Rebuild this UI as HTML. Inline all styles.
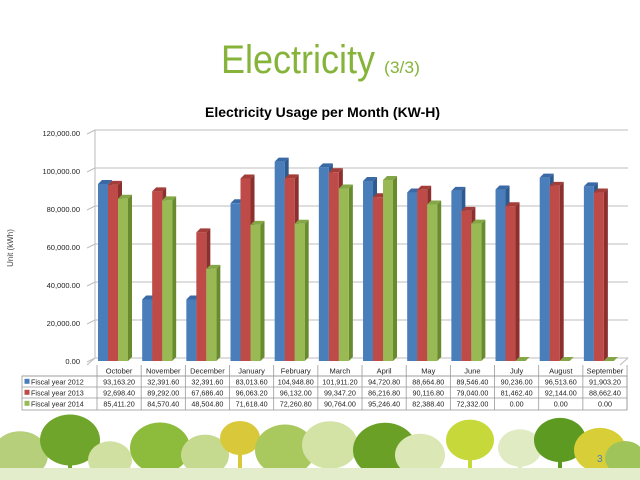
<!DOCTYPE html>
<html><head><meta charset="utf-8"><style>
html,body{margin:0;padding:0;background:#fff;width:640px;height:480px;overflow:hidden}
svg{display:block}
text{font-family:"Liberation Sans",sans-serif}
</style></head><body>
<svg id="s" width="640" height="480" viewBox="0 0 640 480" xmlns="http://www.w3.org/2000/svg">
<g id="trees"></g>
<text x="221" y="73" font-size="40" fill="#86b43a" textLength="154" lengthAdjust="spacingAndGlyphs">Electricity</text>
<text x="384" y="73" font-size="17" fill="#86b43a" textLength="36" lengthAdjust="spacingAndGlyphs">(3/3)</text>
<text x="205" y="117" font-size="14" font-weight="bold" fill="#000" textLength="235" lengthAdjust="spacingAndGlyphs">Electricity Usage per Month (KW-H)</text>
<text transform="translate(13,248) rotate(-90)" font-size="8" fill="#444" text-anchor="middle">Unit (kWh)</text>
<g id="chart"></g>
</svg>
<script>
(function(){
var s=document.getElementById('chart'),NS='http://www.w3.org/2000/svg';
function el(t,a,p){var e=document.createElementNS(NS,t);for(var k in a)e.setAttribute(k,a[k]);(p||s).appendChild(e);return e}
var y0=361,sc=228/120000,L=97,W=44.17;
el('polyline',{points:'87,365 95,358 95,130',fill:'none',stroke:'#bbb','stroke-width':1});
for(var i=0;i<=6;i++){var y=y0-i*20000*sc;
el('line',{x1:95,y1:y-3,x2:628,y2:y-3,stroke:'#bdbdbd','stroke-width':1});
el('line',{x1:87,y1:y+1,x2:95,y2:y-3,stroke:'#bdbdbd','stroke-width':1});
var t=el('text',{x:80,y:y+3,'font-size':'7.5','text-anchor':'end',fill:'#222'});t.textContent=(i*20000).toLocaleString('en-US',{minimumFractionDigits:2});}
el('line',{x1:620,y1:365,x2:628,y2:358,stroke:'#bbb'});
var d=[[93163.2,32391.6,32391.6,83013.6,104948.8,101911.2,94720.8,88664.8,89546.4,90236,96513.6,91903.2],
[92698.4,89292,67686.4,96063.2,96132,99347.2,86216.8,90116.8,79040,81462.4,92144,88662.4],
[85411.2,84570.4,48504.8,71618.4,72260.8,90764,95246.4,82388.4,72332,0,0,0]];
var col=[['#4a7ebb','#2f5a8f','#3a6aa5'],['#be4b48','#8c302e','#a33d3a'],['#98b954','#6a8a2e','#84a646']];
var m=['October','November','December','January','February','March','April','May','June','July','August','September'];
for(var c=0;c<12;c++)for(var k=0;k<3;k++){var x=L+c*W+1+k*10,h=d[k][c]*sc,tp=y0-h,dx=4,dy=4,w=10;
el('polygon',{points:(x+w)+','+tp+' '+(x+w+dx)+','+(tp-dy)+' '+(x+w+dx)+','+(y0-dy)+' '+(x+w)+','+y0,fill:col[k][1]});
el('polygon',{points:x+','+tp+' '+(x+dx)+','+(tp-dy)+' '+(x+w+dx)+','+(tp-dy)+' '+(x+w)+','+tp,fill:col[k][2]});
el('rect',{x:x,y:tp,width:w,height:h,fill:col[k][0]});}
var rows=[365,376,387,398,410];
el('rect',{x:22,y:376,width:605,height:34,fill:'#fff',stroke:'#999','stroke-width':0.8});
for(var r=1;r<4;r++)el('line',{x1:22,y1:rows[r],x2:627,y2:rows[r],stroke:'#999','stroke-width':0.8});
for(var c=0;c<=12;c++){var x=L+c*W;el('line',{x1:x,y1:365,x2:x,y2:410,stroke:'#999','stroke-width':0.8});}
var lab=['Fiscal year 2012','Fiscal year 2013','Fiscal year 2014'];
for(var c=0;c<12;c++){var t=el('text',{x:L+c*W+W/2,y:373.5,'font-size':'7.5','text-anchor':'middle',fill:'#222'});t.textContent=m[c];}
for(var k=0;k<3;k++){var y=rows[k+1]+8.3;
el('rect',{x:24.5,y:y-5.5,width:5,height:5,fill:col[k][0]});
var t=el('text',{x:31,y:y,'font-size':'7.2',fill:'#222'});t.textContent=lab[k];
for(var c=0;c<12;c++){var t=el('text',{x:L+c*W+W/2,y:y,'font-size':'7.2','text-anchor':'middle',fill:'#222'});
t.textContent=d[k][c].toLocaleString('en-US',{minimumFractionDigits:2,maximumFractionDigits:2});}}
var g=document.getElementById('trees');
var tr=[[20,455,28,'#b5cf7a'],[70,440,30,'#6fa52b'],[110,460,22,'#cfe0a0'],[160,448,30,'#8dbb3c'],[205,455,24,'#c5d98f'],[240,438,20,'#d9c93a'],[285,450,30,'#a9c95e'],[330,445,28,'#d3e3a6'],[385,450,32,'#6aa026'],[420,455,25,'#dbe7b5'],[470,440,24,'#c7d93a'],[520,448,22,'#e0ebc3'],[560,440,26,'#5c9a22'],[600,450,26,'#d8cf38'],[625,458,20,'#9fc45a']];
tr.forEach(function(t){el('ellipse',{cx:t[0],cy:t[1],rx:t[2],ry:t[2]*0.85,fill:t[3]},g);
el('rect',{x:t[0]-2,y:t[1],width:4,height:480-t[1],fill:t[3]},g);});
el('rect',{x:0,y:468,width:640,height:12,fill:'#e3edcc'},g);
var n=el('text',{x:597,y:462,'font-size':'10',fill:'#4a7ebb'},g);n.textContent='3';
})();
</script>
</body></html>
